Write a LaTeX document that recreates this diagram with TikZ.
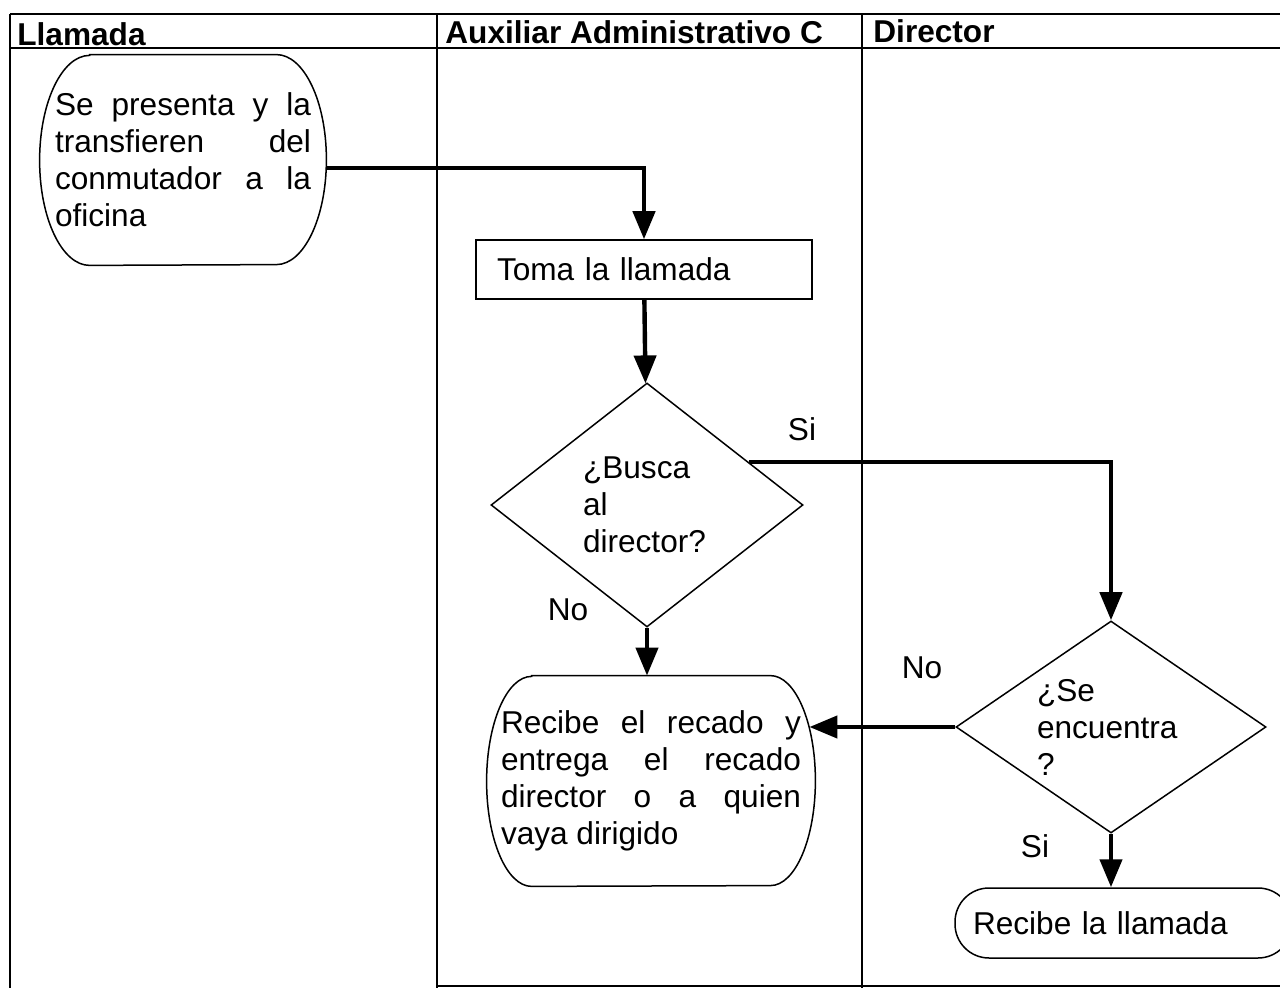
\documentclass[tikz,border=0pt]{standalone}
\usepackage{fontspec}
\setmainfont{Liberation Sans}
\usepackage{tikz}
\usetikzlibrary{arrows.meta, calc, positioning, shapes.geometric}
\hyphenpenalty=10000

\tikzset{
  lane/.style={line width=0.8pt},
  head/.style={font=\bfseries\fontsize{15.8}{18.5}\selectfont, anchor=west, inner sep=0pt},
  txt/.style={font=\fontsize{15.8}{18.5}\selectfont, inner sep=0pt},
  caja/.style={txt, draw, line width=0.75pt, align=left},
  barril/.style={txt, align=justify, inner ysep=0pt},
  decision/.style={txt, diamond, draw, line width=0.75pt, align=left},
  flecha/.style={line width=2.2pt, -{Triangle[width=11pt,length=14pt]}}
}
% contorno de las cajas redondeadas: nodo, abombado, media altura
\newcommand{\barrilcontorno}[3]{%
  \draw[line width=0.75pt] ([xshift=#2]#1.north west) -- ([xshift=-#2]#1.north east)
    arc[start angle=90, end angle=-90, x radius=#2, y radius=#3]
    -- ([xshift=#2]#1.south west)
    arc[start angle=270, end angle=90, x radius=#2, y radius=#3] -- cycle;}

\begin{document}
\begin{tikzpicture}[x=0.5pt, y=-0.5pt]
  \clip (0,0) rectangle (1280,988);

  % carriles
  \draw[lane] (10,14) -- (1280,14);
  \draw[lane] (10,48) -- (1280,48);
  \draw[lane] (437,986) -- (1280,986);
  \foreach \x in {10,437,862}{
    \draw[lane] (\x,14) -- (\x,988);
  }
  \node[head] (llamada) at (17,34) {Llamada};
  \node[head] (auxiliar) at (445,32) {Auxiliar Administrativo C};
  \node[head] (director) at (873,31) {Director};

  % pasos
  \node[barril, text width=128pt, inner xsep=7.5pt, minimum height=105pt] (inicio) at (183,160)
    {Se presenta y la transfieren del conmutador a la oficina};
  \barrilcontorno{inicio}{25pt}{52.5pt}

  \node[caja, text width=147pt, inner xsep=10.5pt, minimum height=29.5pt] (toma) at (644,269.5)
    {Toma la llamada};

  \node[decision, text width=64pt, aspect=1.28, minimum width=156pt, minimum height=122pt] (busca) at (647,505)
    {¿Busca al director?};

  \node[barril, text width=150pt, inner xsep=7pt, minimum height=105pt] (recado) at (651,781)
    {Recibe el recado y entrega el recado director o a quien vaya dirigido};
  \barrilcontorno{recado}{22.5pt}{52.5pt}

  \node[decision, text width=74pt, aspect=1.46, minimum width=155pt, minimum height=106pt] (encuentra) at (1111,727)
    {¿Se encuentra ?};

  \node[caja, rounded corners=17pt, text width=150.5pt, inner xsep=9pt, minimum height=35pt] (recibe) at (1123.5,923)
    {Recibe la llamada};

  % etiquetas
  \node[txt] (si1) at (802,429) {Si};
  \node[txt] (no1) at (568,610) {No};
  \node[txt] (no2) at (922,668) {No};
  \node[txt] (si2) at (1035,846) {Si};

  % flechas
  \draw[flecha] ([yshift=-4pt]inicio.east) -| (toma.north);
  \draw[flecha] (toma) -- (busca);
  \draw[flecha] (busca.south) -- (busca.south |- recado.north);
  \draw[flecha] ($(busca.north)!0.65!(busca.east)$) -| (encuentra.north);
  \draw[flecha, shorten >=-3pt] (encuentra.west) -- (encuentra.west -| recado.east);
  \draw[flecha] (encuentra.south) -- (encuentra.south |- recibe.north);
\end{tikzpicture}
\end{document}
